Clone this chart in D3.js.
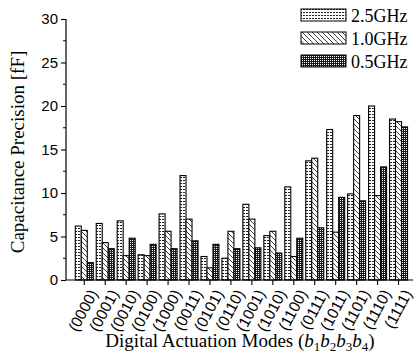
<!DOCTYPE html>
<html>
<head>
<meta charset="utf-8">
<script src="https://cdn.jsdelivr.net/npm/d3@7/dist/d3.min.js"></script>
<style>
  body { margin: 0; background: #fff; }
  svg { display: block; font-family: 'Liberation Serif', 'Times New Roman', serif; }
</style>
</head>
<body>
<div id="chart"></div>
<script>
// categories, series, values
const modes = ["(0000)", "(0001)", "(0010)", "(0100)", "(1000)", "(0011)", "(0101)", "(0110)",
               "(1001)", "(1010)", "(1100)", "(0111)", "(1011)", "(1101)", "(1110)", "(1111)"];
const series = ["2.5GHz", "1.0GHz", "0.5GHz"];
const ghz25 = [6.2, 6.5, 6.8, 2.9, 7.6, 12.0, 2.7, 2.5, 8.7, 5.1, 10.7, 13.7, 17.3, 9.9, 20.0, 18.5];
const ghz10 = [5.7, 4.3, 2.8, 2.8, 5.6, 7.0, 1.4, 5.6, 7.0, 5.6, 2.7, 14.0, 5.5, 18.9, 9.7, 18.2];
const ghz05 = [2.0, 3.6, 4.8, 4.1, 3.6, 4.5, 4.1, 3.6, 3.7, 3.1, 4.8, 6.0, 9.5, 9.1, 13.0, 17.6];
const yTicks = [0, 5, 10, 15, 20, 25, 30];

const values = [ghz25, ghz10, ghz05];
const W = 414, H = 356;

const svg = d3.select("#chart").append("svg")
    .attr("width", W)
    .attr("height", H);

// fill patterns
const defs = svg.append("defs");

let p1 = defs.append("pattern").attr("id", "p25")
    .attr("patternUnits", "userSpaceOnUse")
    .attr("width", 3).attr("height", 3);
p1.append("rect").attr("width", 3).attr("height", 3).attr("fill", "#fff");
p1.append("rect").attr("x", 0).attr("y", 0).attr("width", 2).attr("height", 1).attr("fill", "#222");

let p2 = defs.append("pattern").attr("id", "p10")
    .attr("patternUnits", "userSpaceOnUse")
    .attr("width", 5).attr("height", 5);
p2.append("rect").attr("width", 5).attr("height", 5).attr("fill", "#fff");
p2.append("path").attr("d", "M0,0L5,5M-1,4L1,6M4,-1L6,1")
    .attr("stroke", "#111").attr("stroke-width", 0.8);

let p3 = defs.append("pattern").attr("id", "p05")
    .attr("patternUnits", "userSpaceOnUse")
    .attr("width", 2).attr("height", 2);
p3.append("rect").attr("width", 2).attr("height", 2).attr("fill", "#1a1a1a");
p3.append("rect").attr("width", 1).attr("height", 1).attr("fill", "#fff");

const fills = ["url(#p25)", "url(#p10)", "url(#p05)"];

// scales
let y = d3.scaleLinear().domain([0, 30]).range([280, 19]);
let x = d3.scaleBand().domain(modes).range([73.8, 409]);
let xs = d3.scaleBand().domain(series).range([0, 18]);

const axisLeft = 66;

// bars
series.forEach((s, k) => {
    svg.append("g").selectAll("rect")
        .data(modes)
        .enter()
        .append("rect")
        .attr("x", (d) => x(d) + x.bandwidth() / 2 - 9 + xs(s))
        .attr("y", (d, i) => y(values[k][i]))
        .attr("width", xs.bandwidth())
        .attr("height", (d, i) => y(0) - y(values[k][i]))
        .attr("fill", fills[k])
        .attr("stroke", "#000")
        .attr("stroke-width", 1.1);
});

// y axis
let yAxis = svg.append("g")
    .attr("transform", "translate(" + axisLeft + ",0)")
    .call(d3.axisLeft(y).tickValues(yTicks).tickSize(5).tickPadding(3));
yAxis.select(".domain").attr("stroke-width", 1.2).attr("d", "M0," + y(30) + "V" + y(0));
yAxis.selectAll(".tick line").attr("stroke-width", 1.1);
yAxis.selectAll("text").style("font-size", "15px").attr("fill", "#000");

// minor ticks
svg.append("g").selectAll("line")
    .data(d3.range(2.5, 30, 5))
    .enter()
    .append("line")
    .attr("x1", axisLeft - 3).attr("x2", axisLeft)
    .attr("y1", (d) => y(d)).attr("y2", (d) => y(d))
    .attr("stroke", "#000").attr("stroke-width", 1);

// x axis
let xAxis = svg.append("g")
    .attr("transform", "translate(0," + y(0) + ")")
    .call(d3.axisBottom(x).tickSize(5).tickSizeOuter(0));
xAxis.select(".domain").attr("stroke-width", 1.2).attr("d", "M" + axisLeft + ",0H" + 413);
xAxis.selectAll(".tick line").attr("stroke-width", 1.1);
xAxis.selectAll("text")
    .style("font-size", "15.5px")
    .attr("fill", "#000")
    .attr("text-anchor", "end")
    .attr("dy", 0)
    .attr("transform", "translate(4,8) rotate(-62)")
    .attr("x", 0).attr("y", 0)
    .attr("dominant-baseline", "hanging");

// axis titles
svg.append("text")
    .attr("transform", "translate(24,152) rotate(-90)")
    .attr("text-anchor", "middle")
    .style("font-size", "19px")
    .text("Capacitance Precision [fF]");

let xt = svg.append("text")
    .attr("x", 240).attr("y", 347)
    .attr("text-anchor", "middle")
    .style("font-size", "19px");
xt.append("tspan").text("Digital Actuation Modes (");
[1, 2, 3, 4].forEach((n, i) => {
    xt.append("tspan").attr("dy", i === 0 ? 0 : -4).style("font-style", "italic").text("b");
    xt.append("tspan").attr("dy", 4).style("font-size", "13px").text(n);
});
xt.append("tspan").attr("dy", -4).text(")");

// legend
let legend = svg.append("g");
series.forEach((s, k) => {
    legend.append("rect")
        .attr("x", 301).attr("y", 9 + k * 23)
        .attr("width", 45).attr("height", 12)
        .attr("fill", fills[k])
        .attr("stroke", "#000").attr("stroke-width", 1);
    legend.append("text")
        .attr("x", 351).attr("y", 21.5 + k * 23)
        .style("font-size", "18px")
        .text(s);
});
</script>
</body>
</html>
